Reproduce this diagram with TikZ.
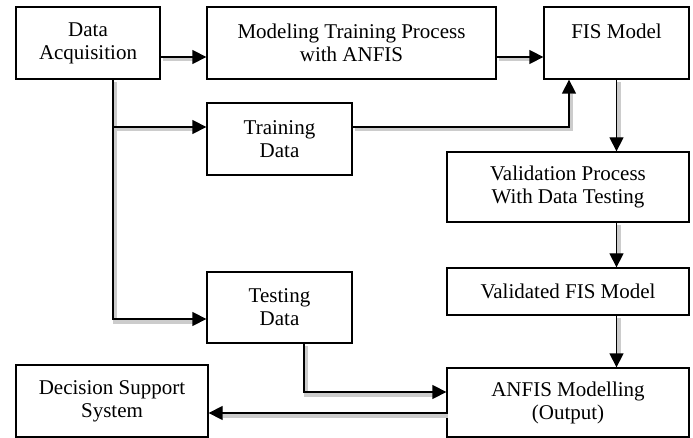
\documentclass[tikz,border=0pt]{standalone}
\usepackage{fontspec}
\setmainfont{Liberation Serif}
\usetikzlibrary{arrows.meta}

\begin{document}
\begin{tikzpicture}
    [x=1pt,y=-1pt,
    Block/.style={draw,line width=1.3pt,inner sep=0pt,align=center,
        font=\fontsize{21}{23}\selectfont},
    flow line/.style={line width=1.3pt,-{Triangle[length=14pt,width=14pt]},
        preaction={draw=black!20,line width=4pt,-,shorten >=12pt,
            transform canvas={shift={(2pt,-2.5pt)}}}},
    ]
    \useasboundingbox (0,0) rectangle (693,438);

    %blocks
    \node[Block,minimum width=144pt,minimum height=72pt] (Acq) at (88,43) {Data\\Acquisition};
    \node[Block,minimum width=289pt,minimum height=72pt] (Modeling) at (351.5,43) {Modeling Training Process\\with ANFIS};
    \node[Block,minimum width=145pt,minimum height=72pt] (FIS) at (616.5,43) {FIS Model\\\mbox{}};
    \node[Block,minimum width=145pt,minimum height=72pt] (Train) at (279.5,139) {Training\\Data};
    \node[Block,minimum width=242pt,minimum height=70pt] (Valid) at (568,187) {Validation Process\\With Data Testing};
    \node[Block,minimum width=242pt,minimum height=47pt] (Validated) at (568,291.5) {Validated FIS Model};
    \node[Block,minimum width=145pt,minimum height=71pt] (Test) at (279.5,307.5) {Testing\\Data};
    \node[Block,minimum width=192pt,minimum height=72pt] (DSS) at (112,401) {Decision Support\\System};
    \node[Block,minimum width=242pt,minimum height=69pt] (ANFIS) at (568,402.5) {ANFIS Modelling\\(Output)};

    %connectors
    \coordinate (Trunk) at (113,127);
    \coordinate (Bend) at (569,127);
    \coordinate (Drop) at (304,392);
    \draw[flow line] (Acq.east |- 0,57) -- (Modeling.west |- 0,57);
    \draw[flow line] (Modeling.east |- 0,57) -- (FIS.west |- 0,57);
    \draw[flow line] (Acq.south -| Trunk) -- (Trunk |- 0,319) -- (Test.west |- 0,319);
    \draw[flow line] (Trunk) -- (Train.west |- Trunk);
    \draw[flow line] (Train.east |- Bend) -- (Bend) -- (FIS.south -| Bend);
    \draw[flow line] (FIS.south) -- (FIS.south |- Valid.north);
    \draw[flow line] (Valid.south -| FIS.south) -- (Validated.north -| FIS.south);
    \draw[flow line] (Validated.south -| FIS.south) -- (ANFIS.north -| FIS.south);
    \draw[flow line] (Test.south -| Drop) -- (Drop) -- (ANFIS.west |- Drop);
    \draw[flow line] (ANFIS.west |- 0,413) -- (DSS.east |- 0,413);

\end{tikzpicture}
\end{document}
